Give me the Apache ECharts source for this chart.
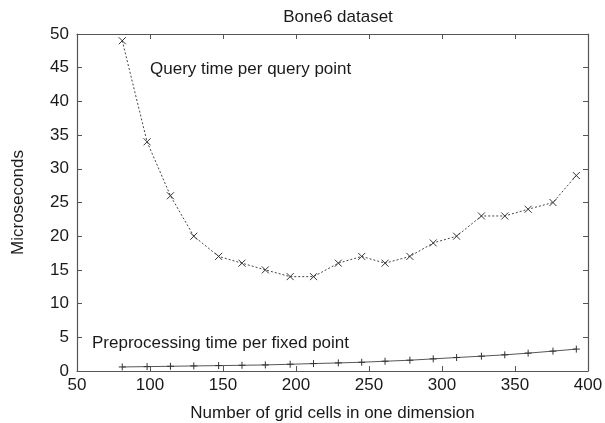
<!DOCTYPE html>
<html>
<head>
<meta charset="utf-8">
<script src="https://cdn.jsdelivr.net/npm/echarts@6/dist/echarts.min.js"></script>
<style>
  html, body { margin: 0; padding: 0; background: #fff; }
  #chart { width: 605px; height: 423px; }
</style>
</head>
<body>
<div id="chart"></div>
<script>
// grid sizes (x)
var gridCells = [81, 98, 114, 130, 147, 163, 179, 196, 212, 229, 245, 261, 278, 294, 310, 327, 343, 359, 376, 392];
// query time per query point
var queryTime = [49, 34, 26, 20, 17, 16, 15, 14, 14, 16, 17, 16, 17, 19, 20, 23, 23, 24, 25, 29];
// preprocessing time per fixed point
var prepTime = [0.6, 0.65, 0.7, 0.75, 0.8, 0.85, 0.9, 1.0, 1.1, 1.2, 1.3, 1.45, 1.6, 1.8, 2.0, 2.2, 2.4, 2.65, 2.95, 3.25];

var crossSym = 'path://M0,0L10,10M10,0L0,10';
var plusSym = 'path://M5,0L5,10M0,5L10,5';

function pairs(xs, ys) {
  return xs.map(function (x, i) { return [x, ys[i]]; });
}

var font = 'Liberation Sans, Arial, sans-serif';
var axisCol = '#555';
var txtCol = '#1a1a1a';

var chart = echarts.init(document.getElementById('chart'));

var option = {
  animation: false,
  title: {
    text: 'Bone6 dataset',
    left: 333, top: 4, textAlign: 'center',
    textStyle: { fontFamily: font, fontSize: 17, fontWeight: 'normal', color: txtCol }
  },
  grid: { left: 77, right: 17, top: 34, bottom: 52, outerBoundsMode: 'none', containLabel: false },
  xAxis: [{
    type: 'value', min: 50, max: 400, interval: 50,
    name: 'Number of grid cells in one dimension',
    nameLocation: 'middle', nameGap: 34,
    nameTextStyle: { fontFamily: font, fontSize: 17, color: txtCol },
    axisLine: { onZero: false, lineStyle: { color: axisCol, width: 1.2 } },
    axisTick: { inside: true, length: 5, lineStyle: { color: axisCol } },
    axisLabel: { fontFamily: font, fontSize: 17, color: txtCol, margin: 6 },
    splitLine: { show: false }
  }, {
    type: 'value', min: 50, max: 400, interval: 50, position: 'top',
    axisLine: { show: true, onZero: false, lineStyle: { color: axisCol, width: 1.2 } },
    axisTick: { inside: true, length: 5, lineStyle: { color: axisCol } },
    axisLabel: { show: false },
    splitLine: { show: false }
  }],
  yAxis: [{
    type: 'value', min: 0, max: 50, interval: 5,
    name: 'Microseconds',
    nameLocation: 'middle', nameGap: 50,
    nameTextStyle: { fontFamily: font, fontSize: 17, color: txtCol },
    axisLine: { show: true, onZero: false, lineStyle: { color: axisCol, width: 1.2 } },
    axisTick: { show: true, inside: true, length: 5, lineStyle: { color: axisCol } },
    axisLabel: { fontFamily: font, fontSize: 17, color: txtCol, margin: 8 },
    splitLine: { show: false }
  }, {
    type: 'value', min: 0, max: 50, interval: 5, position: 'right',
    axisLine: { show: true, onZero: false, lineStyle: { color: axisCol, width: 1.2 } },
    axisTick: { show: true, inside: true, length: 5, lineStyle: { color: axisCol } },
    axisLabel: { show: false },
    splitLine: { show: false }
  }],
  graphic: [{
    type: 'text', left: 150, top: 61,
    style: { text: 'Query time per query point', fontFamily: font, fontSize: 17, fill: txtCol }
  }, {
    type: 'text', left: 92, top: 335,
    style: { text: 'Preprocessing time per fixed point', fontFamily: font, fontSize: 17, fill: txtCol }
  }],
  series: [{
    name: 'Query time per query point',
    type: 'line',
    data: pairs(gridCells, queryTime),
    symbol: crossSym, symbolSize: 7,
    showAllSymbol: true,
    itemStyle: { color: 'none', borderColor: '#333', borderWidth: 1 },
    lineStyle: { color: '#444', width: 1, type: [2, 2] }
  }, {
    name: 'Preprocessing time per fixed point',
    type: 'line',
    data: pairs(gridCells, prepTime),
    symbol: plusSym, symbolSize: 7,
    showAllSymbol: true,
    itemStyle: { color: 'none', borderColor: '#333', borderWidth: 1 },
    lineStyle: { color: '#555', width: 1 }
  }]
};

chart.setOption(option);
</script>
</body>
</html>
